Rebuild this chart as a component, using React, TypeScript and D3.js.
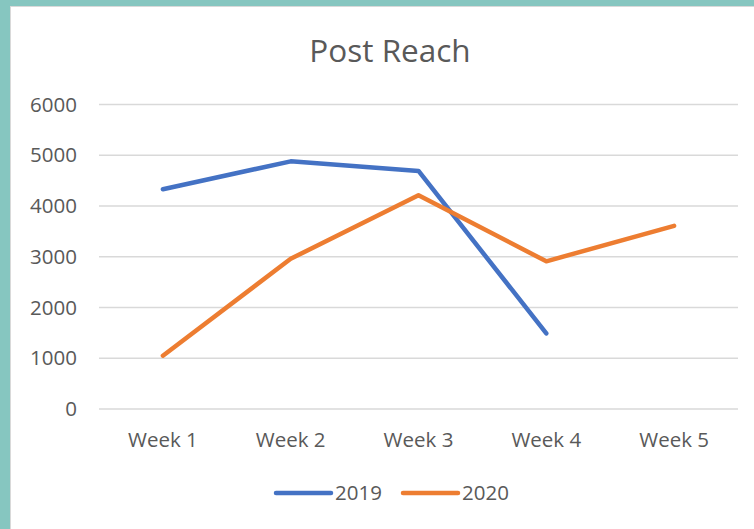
import React from "react";
import * as d3 from "d3";

const categories = ["Week 1", "Week 2", "Week 3", "Week 4", "Week 5"];
const series2019: (number | null)[] = [4330, 4880, 4690, 1490, null];
const series2020: (number | null)[] = [1050, 2960, 4210, 2910, 3610];
const yTicks = [0, 1000, 2000, 3000, 4000, 5000, 6000];
const seriesNames = ["2019", "2020"];
const colors = ["#4472C4", "#ED7D31"];

const W = 754;
const H = 529;
const FONT = "'Open Sans', 'Noto Sans', sans-serif";

export default function App() {
  const x = d3.scaleBand<string>().domain(categories).range([99, 738]);
  const y = d3.scaleLinear().domain([0, 6000]).range([409, 104.5]);
  const line = d3
    .line<number | null>()
    .defined((d) => d !== null)
    .x((_, i) => (x(categories[i]) as number) + x.bandwidth() / 2)
    .y((d) => y(d as number));
  const data = [series2019, series2020];

  return (
    <svg width={W} height={H} style={{ position: "absolute", left: 0, top: 0 }} fontFamily={FONT}>
      <rect x={0} y={0} width={W} height={H} fill="#86C6C0" />
      <rect x={10} y={6} width={W - 10} height={H - 6} fill="#D9D9D9" />
      <rect x={11} y={7} width={W - 11} height={H - 7} fill="#FFFFFF" />
      <text x={390} y={62} textAnchor="middle" fontSize={31.5} fill="#595959">
        Post Reach
      </text>
      {yTicks.map((t) => (
        <g key={t}>
          <line x1={99} x2={738} y1={y(t)} y2={y(t)} stroke="#D9D9D9" strokeWidth={1.5} />
          <text x={77} y={y(t)} dy="0.35em" textAnchor="end" fontSize={20.5} fill="#595959">
            {t}
          </text>
        </g>
      ))}
      {categories.map((c) => (
        <text
          key={c}
          x={(x(c) as number) + x.bandwidth() / 2}
          y={440}
          dy="0.35em"
          textAnchor="middle"
          fontSize={20.5}
          fill="#595959"
        >
          {c}
        </text>
      ))}
      {data.map((s, i) => (
        <path
          key={i}
          d={line(s) || ""}
          fill="none"
          stroke={colors[i]}
          strokeWidth={4.5}
          strokeLinecap="round"
          strokeLinejoin="round"
        />
      ))}
      {seriesNames.map((n, i) => {
        const lx = 276 + i * 127;
        return (
          <g key={n}>
            <line x1={lx} x2={lx + 55} y1={493} y2={493} stroke={colors[i]} strokeWidth={4.5} strokeLinecap="round" />
            <text x={lx + 59} y={493} dy="0.35em" fontSize={20.5} fill="#595959">
              {n}
            </text>
          </g>
        );
      })}
    </svg>
  );
}
